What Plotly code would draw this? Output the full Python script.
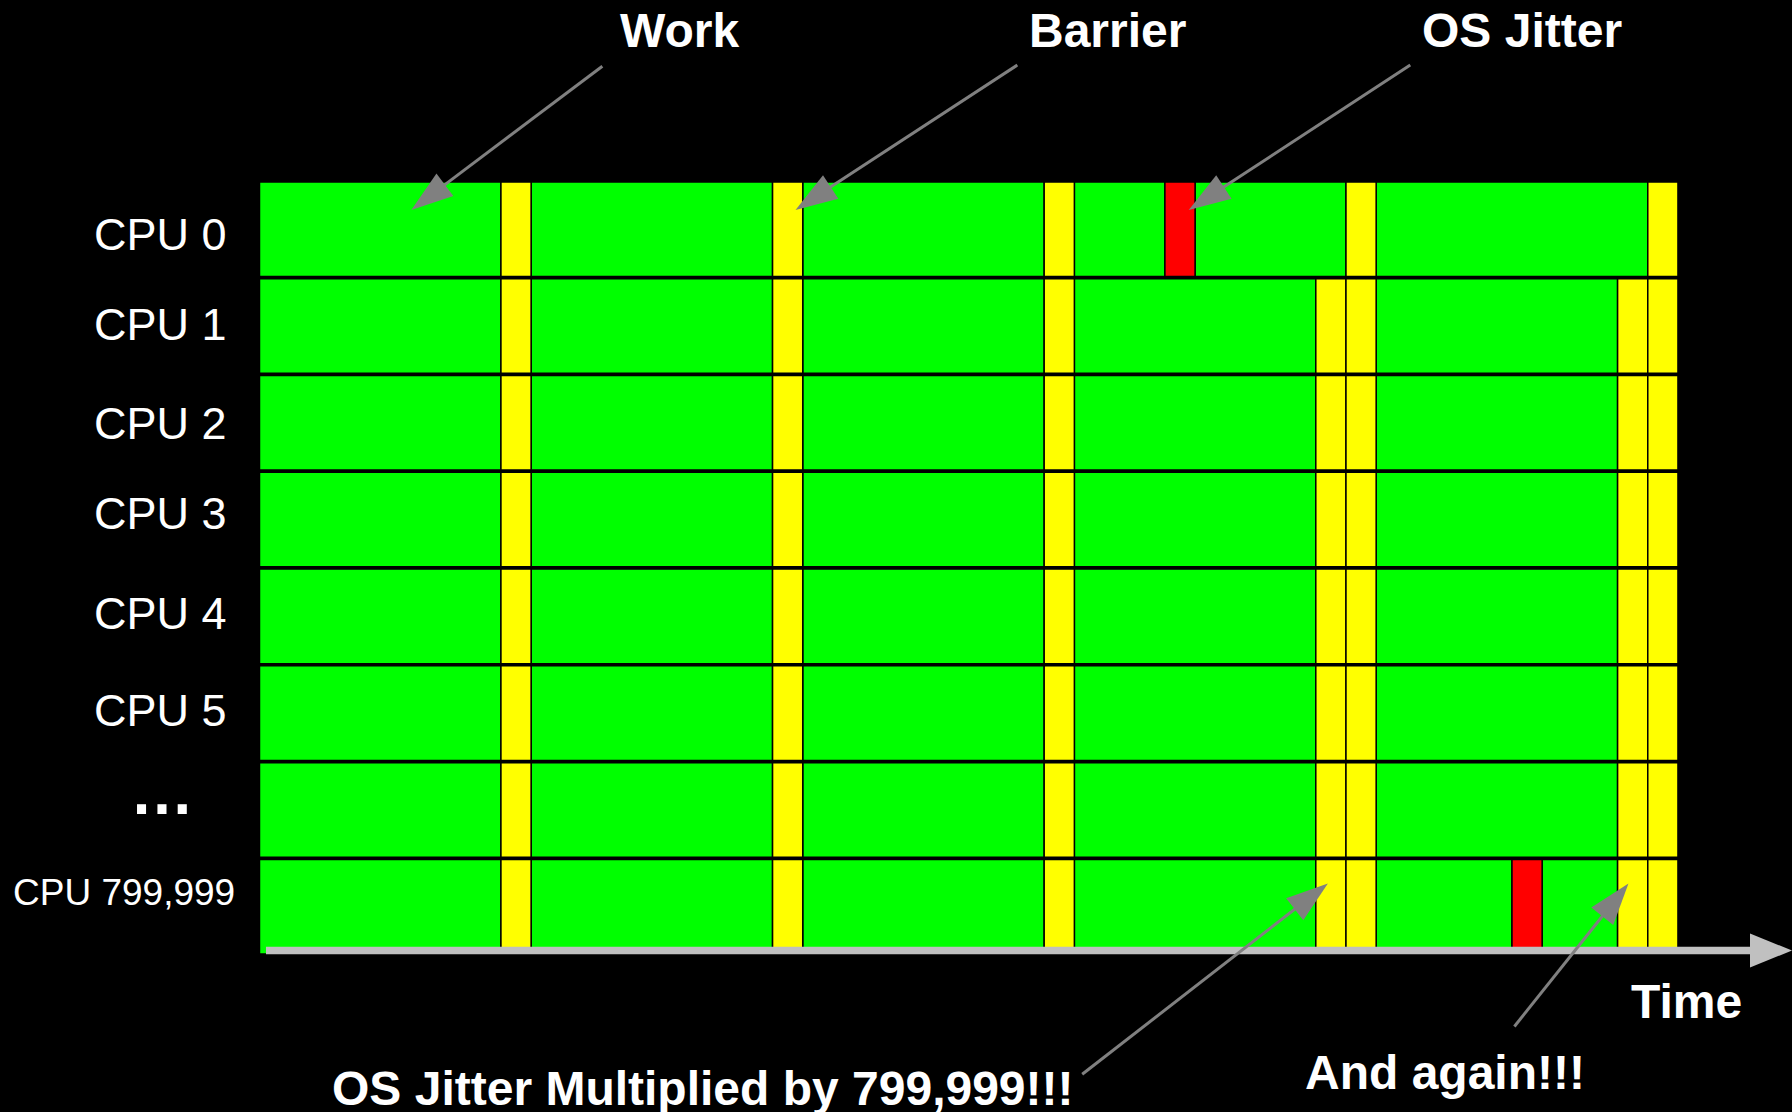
import math
import plotly.graph_objects as go

# ---------------- data ----------------
cpu_labels = ["CPU 0", "CPU 1", "CPU 2", "CPU 3", "CPU 4", "CPU 5", "\u2026", "CPU 799,999"]

# segment kinds and their durations (time units) for each CPU row
cpu0_kinds = ["Work", "Barrier", "Work", "Barrier", "Work", "Barrier",
              "Work", "OS Jitter", "Work", "Barrier", "Work", "Barrier"]
cpu0_durations = [8, 1, 8, 1, 8, 1, 3, 1, 5, 1, 9, 1]

middle_kinds = ["Work", "Barrier", "Work", "Barrier", "Work", "Barrier",
                "Work", "Barrier", "Barrier", "Work", "Barrier", "Barrier"]
middle_durations = [8, 1, 8, 1, 8, 1, 8, 1, 1, 8, 1, 1]

last_kinds = ["Work", "Barrier", "Work", "Barrier", "Work", "Barrier",
              "Work", "Barrier", "Barrier", "Work", "OS Jitter", "Work", "Barrier", "Barrier"]
last_durations = [8, 1, 8, 1, 8, 1, 8, 1, 1, 4.5, 1, 2.5, 1, 1]

row_kinds = [cpu0_kinds] + [middle_kinds] * 6 + [last_kinds]
row_durations = [cpu0_durations] + [middle_durations] * 6 + [last_durations]

top_labels = ["Work", "Barrier", "OS Jitter"]
bottom_label = "OS Jitter Multiplied by 799,999!!!"
again_label = "And again!!!"
axis_label = "Time"

# ---------------- layout constants ----------------
W, H = 1792, 1112
X0_PX, PX_T = 259.5, 30.18      # pixel of t=0, pixels per time unit
Y0_PX, PX_R = 180.9, 96.77      # pixel of row-top 0, pixels per row
x_range = [-X0_PX / PX_T, (W - X0_PX) / PX_T]
y_range = [(H - Y0_PX) / PX_R, -Y0_PX / PX_R]
BARGAP = 0.023
LABEL_NUDGE_PX = [-5.5, 1.5, -0.5, 5.8, 2.5, 3.1, 0, 14.1]   # small vertical offsets of row labels

kind_colors = {"Work": "#00ff00", "Barrier": "#ffff00", "OS Jitter": "#ff0000"}

fig = go.Figure()

for kind in ["Work", "Barrier", "OS Jitter"]:
    ys, bases, lens = [], [], []
    for r, (kinds, durs) in enumerate(zip(row_kinds, row_durations)):
        start = 0.0
        for k, d in zip(kinds, durs):
            if k == kind:
                ys.append(r + 0.5)
                bases.append(start)
                lens.append(d)
            start += d
    fig.add_trace(go.Bar(
        orientation="h", y=ys, x=lens, base=bases, name=kind,
        width=1 - BARGAP,
        marker=dict(color=kind_colors[kind], line=dict(color="black", width=1.5)),
        hoverinfo="skip", showlegend=False,
    ))

GRAY = "#808080"
AXIS_GRAY = "#c0c0c0"


def arrow_shapes(start, tip, color, width, head_len, head_w):
    sx, sy = start
    tx, ty = tip
    dxp = (tx - sx) * PX_T
    dyp = (ty - sy) * PX_R
    n = math.hypot(dxp, dyp)
    ux, uy = dxp / n, dyp / n
    bx = tx - head_len * ux / PX_T
    by = ty - head_len * uy / PX_R
    lx = tx - (head_len - 2) * ux / PX_T
    ly = ty - (head_len - 2) * uy / PX_R
    px_, py_ = -uy, ux
    p1 = (bx + head_w / 2 * px_ / PX_T, by + head_w / 2 * py_ / PX_R)
    p2 = (bx - head_w / 2 * px_ / PX_T, by - head_w / 2 * py_ / PX_R)
    line = dict(type="line", xref="x", yref="y", x0=sx, y0=sy, x1=lx, y1=ly,
                line=dict(color=color, width=width), layer="above")
    head = dict(type="path", xref="x", yref="y",
                path=f"M {tx},{ty} L {p1[0]},{p1[1]} L {p2[0]},{p2[1]} Z",
                fillcolor=color, line=dict(width=0), layer="above")
    return [line, head]


shapes = []
# time axis arrow
shapes += arrow_shapes((0.215, 7.953), (x_range[1], 7.953), AXIS_GRAY, 7.6, 42, 34)

callouts = [
    ((11.36, -1.184), (5.03, 0.30)),
    ((25.11, -1.197), (17.76, 0.30)),
    ((38.13, -1.197), (30.79, 0.30)),
    ((27.26, 9.232), (35.40, 7.26)),
    ((41.58, 8.738), (45.36, 7.26)),
]
for s, t in callouts:
    shapes += arrow_shapes(s, t, GRAY, 3, 42, 28)

FONT = "Liberation Sans, Arial, sans-serif"
annotations = []
for i, lab in enumerate(cpu_labels):
    if lab == "\u2026":
        annotations.append(dict(x=-3.22, y=6.318, text=lab, xanchor="center", yanchor="middle",
                                font=dict(family=FONT, size=64, color="white", weight=700)))
    elif i == len(cpu_labels) - 1:
        annotations.append(dict(x=-0.745, y=i + 0.5, yshift=LABEL_NUDGE_PX[i], text=lab,
                                xanchor="right", yanchor="middle",
                                font=dict(family=FONT, size=37, color="white")))
    else:
        annotations.append(dict(x=-1.0, y=i + 0.5, yshift=LABEL_NUDGE_PX[i], text=lab,
                                xanchor="right", yanchor="middle",
                                font=dict(family=FONT, size=45, color="white")))

bold = dict(family=FONT, size=48, color="white", weight=700)
for lab, xc in zip(top_labels, [13.93, 28.10, 41.82]):
    annotations.append(dict(x=xc, y=-1.556, text=lab, xanchor="center", yanchor="middle", font=bold))
annotations.append(dict(x=47.29, y=8.482, text=axis_label, xanchor="center", yanchor="middle", font=bold))
annotations.append(dict(x=14.71, y=9.374, text=bottom_label, xanchor="center", yanchor="middle", font=bold))
annotations.append(dict(x=39.28, y=9.214, text=again_label, xanchor="center", yanchor="middle", font=bold))

for a in annotations:
    a.update(xref="x", yref="y", showarrow=False)

fig.update_layout(
    width=W, height=H,
    margin=dict(l=0, r=0, t=0, b=0, pad=0),
    paper_bgcolor="black", plot_bgcolor="black",
    barmode="overlay", bargap=BARGAP,
    xaxis=dict(range=x_range, visible=False, fixedrange=True),
    yaxis=dict(range=y_range, visible=False, fixedrange=True),
    shapes=shapes, annotations=annotations,
    showlegend=False,
)

fig.write_html(
    "out.html",
    config={"displayModeBar": False},
    post_script="document.body.style.margin='0';document.body.style.background='black';document.body.style.overflow='hidden';",
)
